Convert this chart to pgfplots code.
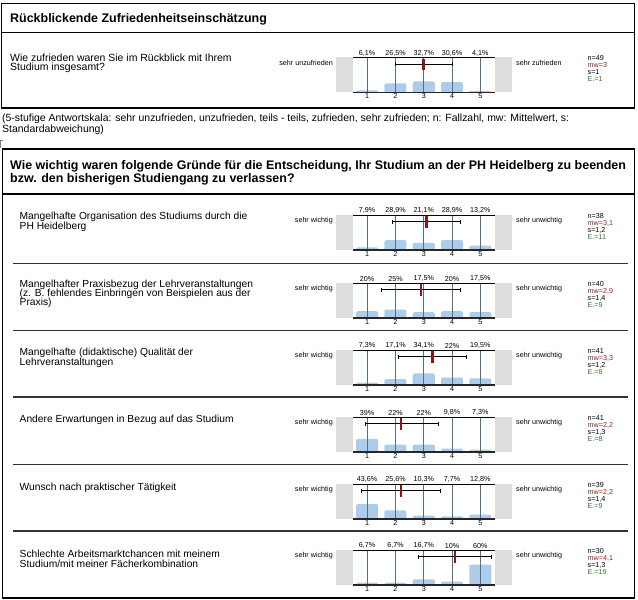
\documentclass[border=0pt]{standalone}
\usepackage{pgfplots}
\usepackage{pgfplotstable}
\pgfplotsset{compat=1.18}
\usepackage{fontspec}
\setmainfont{Liberation Sans}
\definecolor{barblue}{RGB}{172,204,233}
\definecolor{gridblue}{RGB}{78,112,148}
\definecolor{greybox}{RGB}{221,221,221}
\definecolor{meanred}{RGB}{140,22,22}
\definecolor{mwred}{RGB}{140,40,40}
\definecolor{egreen}{RGB}{50,120,50}
\newcommand{\sm}{\fontsize{7.2}{8}\selectfont}
\newcommand{\qt}{\fontsize{10.5}{11}\selectfont}
\newcommand{\itm}{\fontsize{10.3}{11}\selectfont}
\newcommand{\hd}{\fontsize{12.5}{14}\selectfont\bfseries}

\pgfplotstableread{
x p lab
1 6.1 {6,1}
2 26.5 {26,5}
3 32.7 {32,7}
4 30.6 {30,6}
5 4.1 {4,1}
}\tabZ
\pgfplotstableread{
x p lab
1 7.9 {7,9}
2 28.9 {28,9}
3 21.1 {21,1}
4 28.9 {28,9}
5 13.2 {13,2}
}\tabA
\pgfplotstableread{
x p lab
1 20 {20}
2 25 {25}
3 17.5 {17,5}
4 20 {20}
5 17.5 {17,5}
}\tabB
\pgfplotstableread{
x p lab
1 7.3 {7,3}
2 17.1 {17,1}
3 34.1 {34,1}
4 22 {22}
5 19.5 {19,5}
}\tabC
\pgfplotstableread{
x p lab
1 39 {39}
2 22 {22}
3 22 {22}
4 9.8 {9,8}
5 7.3 {7,3}
}\tabD
\pgfplotstableread{
x p lab
1 43.6 {43,6}
2 25.6 {25,6}
3 10.3 {10,3}
4 7.7 {7,7}
5 12.8 {12,8}
}\tabE
\pgfplotstableread{
x p lab
1 6.7 {6,7}
2 6.7 {6,7}
3 16.7 {16,7}
4 10 {10}
5 60 {60}
}\tabF

% #1 top y (px), #2 table, #3 lo, #4 hi, #5 mean
\newcommand{\likert}[5]{%
\fill[greybox] (336bp,-#1bp) rectangle ++(17bp,-35bp);
\fill[greybox] (494.5bp,-#1bp) rectangle ++(17bp,-35bp);
\begin{axis}[at={(353bp,-#1bp)}, anchor=north west, scale only axis,
  width=141.5bp, height=35bp, xmin=0.5, xmax=5.5, ymin=0, ymax=103,
  axis x line*=bottom, axis y line=none, x axis line style={draw=none},
  xtick={1,2,3,4,5}, xticklabels={1,2,3,4,5}, major tick length=0pt,
  xticklabel style={font=\sm, inner sep=1.2bp}, clip=false]
\addplot[ybar, bar width=0.78, bar shift=0pt, fill=barblue, draw=none, rounded corners=1.5bp] table[x=x,y=p] {#2};
\addplot[ycomb, gridblue, line width=0.7bp] table[x=x, y expr=103] {#2};
\addplot[draw=none, nodes near coords={\pgfplotspointmeta\%}, point meta=explicit symbolic,
  nodes near coords style={anchor=south, font=\sm, inner sep=1.2bp, text=black}] table[x=x, y expr=103, meta=lab] {#2};
\addplot[black, line width=0.8bp, mark=|, mark size=2.2bp, mark options={line width=0.8bp}] coordinates {(#3,83) (#4,83)};
\addplot[meanred, line width=2.6bp] coordinates {(#5,66) (#5,99.5)};
\draw[black, line width=0.9bp] (rel axis cs:0,1) -- (rel axis cs:1,1);
\draw[black!85, line width=1.3bp] (rel axis cs:0,0) -- (rel axis cs:1,0);
\end{axis}}

% #1 T, #2 n, #3 mw, #4 s, #5 E, #6 left label, #7 right label
\newcommand{\side}[7]{%
\node[anchor=east, font=\sm, inner sep=0pt] at (333,{#1+5.5}) {#6};
\node[anchor=west, font=\sm, inner sep=0pt] at (516,{#1+5.5}) {#7};
\node[anchor=west, font=\sm, inner sep=0pt] at (587.5,{#1+1}) {n=#2};
\node[anchor=west, font=\sm, inner sep=0pt, text=mwred] at (587.5,{#1+8}) {mw=#3};
\node[anchor=west, font=\sm, inner sep=0pt] at (587.5,{#1+15}) {s=#4};
\node[anchor=west, font=\sm, inner sep=0pt, text=egreen] at (587.5,{#1+22}) {E.=#5};
}

\begin{document}
\begin{tikzpicture}
\begin{scope}[x=1bp,y=-1bp]
\path (0,0) rectangle (638,600);
% box 1
\draw[line width=1.2bp] (1.5,3.5) rectangle (634.5,108);
\draw[line width=1.2bp] (1.5,32.5) -- (634.5,32.5);
\node[anchor=base west, font=\hd, inner sep=0pt] at (10,22.5) {Rückblickende Zufriedenheitseinschätzung};
\node[anchor=base west, font=\qt, inner sep=0pt] at (10,61.5) {Wie zufrieden waren Sie im Rückblick mit Ihrem};
\node[anchor=base west, font=\qt, inner sep=0pt] at (10,71) {Studium insgesamt?};
\side{57.5}{49}{3}{1}{1}{sehr unzufrieden}{sehr zufrieden}
% footnote
\node[anchor=base west, font=\qt, inner sep=0pt] at (2,122) {(5-stufige Antwortskala: sehr unzufrieden, unzufrieden, teils - teils, zufrieden, sehr zufrieden; n: Fallzahl, mw: Mittelwert, s:};
\node[anchor=base west, font=\qt, inner sep=0pt] at (2,133) {Standardabweichung)};
\draw[gray, line width=0.5bp] (0.5,148) -- (0.5,140.5) -- (3,140.5);
% box 2
\draw[line width=1.2bp] (2.5,149) rectangle (634.5,598);
\draw[line width=1.2bp] (2.5,194) -- (634.5,194);
\node[anchor=base west, font=\hd, inner sep=0pt] at (10,169.3) {Wie wichtig waren folgende Gründe für die Entscheidung, Ihr Studium an der PH Heidelberg zu beenden};
\node[anchor=base west, font=\hd, inner sep=0pt] at (10,182.5) {bzw. den bisherigen Studiengang zu verlassen?};
\foreach \yy in {263.5,330.5,397,464.5,531}{\draw[black!80, line width=1.2bp] (13,\yy) -- (628,\yy);}
% items
\node[anchor=base west, font=\itm, inner sep=0pt] at (19.5,219) {Mangelhafte Organisation des Studiums durch die};
\node[anchor=base west, font=\itm, inner sep=0pt] at (19.5,229.5) {PH Heidelberg};
\node[anchor=base west, font=\itm, inner sep=0pt] at (19.5,287.5) {Mangelhafter Praxisbezug der Lehrveranstaltungen};
\node[anchor=base west, font=\itm, inner sep=0pt] at (19.5,296.5) {(z. B. fehlendes Einbringen von Beispielen aus der};
\node[anchor=base west, font=\itm, inner sep=0pt] at (19.5,305.5) {Praxis)};
\node[anchor=base west, font=\itm, inner sep=0pt] at (19.5,355.5) {Mangelhafte (didaktische) Qualität der};
\node[anchor=base west, font=\itm, inner sep=0pt] at (19.5,365.5) {Lehrveranstaltungen};
\node[anchor=base west, font=\itm, inner sep=0pt] at (19.5,422.5) {Andere Erwartungen in Bezug auf das Studium};
\node[anchor=base west, font=\itm, inner sep=0pt] at (19.5,490) {Wunsch nach praktischer Tätigkeit};
\node[anchor=base west, font=\itm, inner sep=0pt] at (19.5,557.5) {Schlechte Arbeitsmarktchancen mit meinem};
\node[anchor=base west, font=\itm, inner sep=0pt] at (19.5,567) {Studium/mit meiner Fächerkombination};
\side{215}{38}{3,1}{1,2}{11}{sehr wichtig}{sehr unwichtig}
\side{283}{40}{2,9}{1,4}{9}{sehr wichtig}{sehr unwichtig}
\side{350}{41}{3,3}{1,2}{8}{sehr wichtig}{sehr unwichtig}
\side{417}{41}{2,2}{1,3}{8}{sehr wichtig}{sehr unwichtig}
\side{484}{39}{2,2}{1,4}{9}{sehr wichtig}{sehr unwichtig}
\side{550}{30}{4,1}{1,3}{19}{sehr wichtig}{sehr unwichtig}
\end{scope}
\likert{57.5}{\tabZ}{2}{4}{3}
\likert{215}{\tabA}{1.9}{4.3}{3.1}
\likert{283}{\tabB}{1.5}{4.3}{2.9}
\likert{350}{\tabC}{2.1}{4.5}{3.3}
\likert{417}{\tabD}{0.95}{3.5}{2.2}
\likert{484}{\tabE}{0.8}{3.6}{2.2}
\likert{550}{\tabF}{2.8}{5.4}{4.1}
\end{tikzpicture}
\end{document}
